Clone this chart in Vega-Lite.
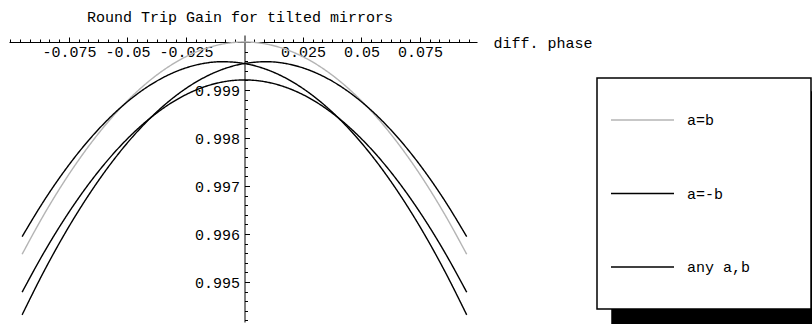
{
 "$schema": "https://vega.github.io/schema/vega-lite/v6.json",
 "width": 468, "height": 287,
 "autosize": "none",
 "padding": {"left": 9, "top": 35, "right": 335, "bottom": 2},
 "background": "white",
 "title": {"text": "Round Trip Gain for tilted mirrors", "font": "Liberation Mono", "fontSize": 15, "fontWeight": "normal", "color": "black", "anchor": "middle", "baseline": "alphabetic", "offset": 15, "dy": 17, "dx": -3},
 "data": {"values": [
  {"x": -0.095, "y": 0.995578, "case": "a=b", "curve": "G"},
  {"x": -0.0855, "y": 0.996418, "case": "a=b", "curve": "G"},
  {"x": -0.076, "y": 0.997170, "case": "a=b", "curve": "G"},
  {"x": -0.0665, "y": 0.997833, "case": "a=b", "curve": "G"},
  {"x": -0.057, "y": 0.998408, "case": "a=b", "curve": "G"},
  {"x": -0.0475, "y": 0.998894, "case": "a=b", "curve": "G"},
  {"x": -0.038, "y": 0.999292, "case": "a=b", "curve": "G"},
  {"x": -0.0285, "y": 0.999602, "case": "a=b", "curve": "G"},
  {"x": -0.019, "y": 0.999823, "case": "a=b", "curve": "G"},
  {"x": -0.0095, "y": 0.999956, "case": "a=b", "curve": "G"},
  {"x": 0, "y": 1.0, "case": "a=b", "curve": "G"},
  {"x": 0.0095, "y": 0.999956, "case": "a=b", "curve": "G"},
  {"x": 0.019, "y": 0.999823, "case": "a=b", "curve": "G"},
  {"x": 0.0285, "y": 0.999602, "case": "a=b", "curve": "G"},
  {"x": 0.038, "y": 0.999292, "case": "a=b", "curve": "G"},
  {"x": 0.0475, "y": 0.998894, "case": "a=b", "curve": "G"},
  {"x": 0.057, "y": 0.998408, "case": "a=b", "curve": "G"},
  {"x": 0.0665, "y": 0.997833, "case": "a=b", "curve": "G"},
  {"x": 0.076, "y": 0.997170, "case": "a=b", "curve": "G"},
  {"x": 0.0855, "y": 0.996418, "case": "a=b", "curve": "G"},
  {"x": 0.095, "y": 0.995578, "case": "a=b", "curve": "G"},
  {"x": -0.095, "y": 0.994788, "case": "a=-b", "curve": "C"},
  {"x": -0.0855, "y": 0.995628, "case": "a=-b", "curve": "C"},
  {"x": -0.076, "y": 0.996380, "case": "a=-b", "curve": "C"},
  {"x": -0.0665, "y": 0.997043, "case": "a=-b", "curve": "C"},
  {"x": -0.057, "y": 0.997618, "case": "a=-b", "curve": "C"},
  {"x": -0.0475, "y": 0.998104, "case": "a=-b", "curve": "C"},
  {"x": -0.038, "y": 0.998502, "case": "a=-b", "curve": "C"},
  {"x": -0.0285, "y": 0.998812, "case": "a=-b", "curve": "C"},
  {"x": -0.019, "y": 0.999033, "case": "a=-b", "curve": "C"},
  {"x": -0.0095, "y": 0.999166, "case": "a=-b", "curve": "C"},
  {"x": 0, "y": 0.999210, "case": "a=-b", "curve": "C"},
  {"x": 0.0095, "y": 0.999166, "case": "a=-b", "curve": "C"},
  {"x": 0.019, "y": 0.999033, "case": "a=-b", "curve": "C"},
  {"x": 0.0285, "y": 0.998812, "case": "a=-b", "curve": "C"},
  {"x": 0.038, "y": 0.998502, "case": "a=-b", "curve": "C"},
  {"x": 0.0475, "y": 0.998104, "case": "a=-b", "curve": "C"},
  {"x": 0.057, "y": 0.997618, "case": "a=-b", "curve": "C"},
  {"x": 0.0665, "y": 0.997043, "case": "a=-b", "curve": "C"},
  {"x": 0.076, "y": 0.996380, "case": "a=-b", "curve": "C"},
  {"x": 0.0855, "y": 0.995628, "case": "a=-b", "curve": "C"},
  {"x": 0.095, "y": 0.994788, "case": "a=-b", "curve": "C"},
  {"x": -0.095, "y": 0.995945, "case": "any a,b", "curve": "A"},
  {"x": -0.0855, "y": 0.996704, "case": "any a,b", "curve": "A"},
  {"x": -0.076, "y": 0.997374, "case": "any a,b", "curve": "A"},
  {"x": -0.0665, "y": 0.997956, "case": "any a,b", "curve": "A"},
  {"x": -0.057, "y": 0.998449, "case": "any a,b", "curve": "A"},
  {"x": -0.0475, "y": 0.998854, "case": "any a,b", "curve": "A"},
  {"x": -0.038, "y": 0.999171, "case": "any a,b", "curve": "A"},
  {"x": -0.0285, "y": 0.999399, "case": "any a,b", "curve": "A"},
  {"x": -0.019, "y": 0.999539, "case": "any a,b", "curve": "A"},
  {"x": -0.0095, "y": 0.999590, "case": "any a,b", "curve": "A"},
  {"x": 0, "y": 0.999552, "case": "any a,b", "curve": "A"},
  {"x": 0.0095, "y": 0.999427, "case": "any a,b", "curve": "A"},
  {"x": 0.019, "y": 0.999213, "case": "any a,b", "curve": "A"},
  {"x": 0.0285, "y": 0.998910, "case": "any a,b", "curve": "A"},
  {"x": 0.038, "y": 0.998519, "case": "any a,b", "curve": "A"},
  {"x": 0.0475, "y": 0.998040, "case": "any a,b", "curve": "A"},
  {"x": 0.057, "y": 0.997472, "case": "any a,b", "curve": "A"},
  {"x": 0.0665, "y": 0.996815, "case": "any a,b", "curve": "A"},
  {"x": 0.076, "y": 0.996071, "case": "any a,b", "curve": "A"},
  {"x": 0.0855, "y": 0.995237, "case": "any a,b", "curve": "A"},
  {"x": 0.095, "y": 0.994316, "case": "any a,b", "curve": "A"},
  {"x": -0.095, "y": 0.994316, "case": "any a,b", "curve": "B"},
  {"x": -0.0855, "y": 0.995237, "case": "any a,b", "curve": "B"},
  {"x": -0.076, "y": 0.996071, "case": "any a,b", "curve": "B"},
  {"x": -0.0665, "y": 0.996815, "case": "any a,b", "curve": "B"},
  {"x": -0.057, "y": 0.997472, "case": "any a,b", "curve": "B"},
  {"x": -0.0475, "y": 0.998040, "case": "any a,b", "curve": "B"},
  {"x": -0.038, "y": 0.998519, "case": "any a,b", "curve": "B"},
  {"x": -0.0285, "y": 0.998910, "case": "any a,b", "curve": "B"},
  {"x": -0.019, "y": 0.999213, "case": "any a,b", "curve": "B"},
  {"x": -0.0095, "y": 0.999427, "case": "any a,b", "curve": "B"},
  {"x": 0, "y": 0.999552, "case": "any a,b", "curve": "B"},
  {"x": 0.0095, "y": 0.999590, "case": "any a,b", "curve": "B"},
  {"x": 0.019, "y": 0.999539, "case": "any a,b", "curve": "B"},
  {"x": 0.0285, "y": 0.999399, "case": "any a,b", "curve": "B"},
  {"x": 0.038, "y": 0.999171, "case": "any a,b", "curve": "B"},
  {"x": 0.0475, "y": 0.998854, "case": "any a,b", "curve": "B"},
  {"x": 0.057, "y": 0.998449, "case": "any a,b", "curve": "B"},
  {"x": 0.0665, "y": 0.997956, "case": "any a,b", "curve": "B"},
  {"x": 0.076, "y": 0.997374, "case": "any a,b", "curve": "B"},
  {"x": 0.0855, "y": 0.996704, "case": "any a,b", "curve": "B"},
  {"x": 0.095, "y": 0.995945, "case": "any a,b", "curve": "B"}
 ]},
 "layer": [
  {
   "mark": {"type": "line", "interpolate": "monotone", "strokeWidth": 1.4},
   "encoding": {
    "x": {"field": "x", "type": "quantitative", "scale": {"domain": [-0.1006, 0.0994], "nice": false, "zero": false},
      "axis": {"orient": "bottom", "offset": -280, "values": [-0.075, -0.05, -0.025, 0.025, 0.05, 0.075], "labelExpr": "toString(datum.value)", "tickSize": -5, "tickColor": "black", "tickWidth": 1, "domainColor": "black", "domainWidth": 1, "labelFont": "Liberation Mono", "labelFontSize": 15, "labelColor": "black", "labelPadding": 7, "labelBaseline": "top", "labelFlush": false, "labelOverlap": false, "grid": false,
        "title": "diff. phase", "titleFont": "Liberation Mono", "titleFontSize": 15, "titleFontWeight": "normal", "titleColor": "black", "titleAlign": "left", "titleBaseline": "middle", "titleX": 484, "titleY": 0, "titleAngle": 0}},
    "y": {"field": "y", "type": "quantitative", "scale": {"domain": [0.994167, 1.000146], "nice": false, "zero": false},
      "axis": {"orient": "left", "offset": -235.5, "values": [0.995, 0.996, 0.997, 0.998, 0.999], "format": ".3f", "tickSize": -5, "tickColor": "black", "tickWidth": 1, "domainColor": "black", "domainWidth": 1, "labelFont": "Liberation Mono", "labelFontSize": 15, "labelColor": "black", "labelPadding": 10, "labelFlush": false, "labelOverlap": false, "grid": false, "title": null}},
    "color": {"field": "case", "type": "nominal", "scale": {"domain": ["a=b", "a=-b", "any a,b"], "range": ["#b4b4b4", "#000000", "#000000"]},
      "legend": {"title": ".", "titleOrient": "right", "titleColor": "white", "titleOpacity": 0, "titleFont": "Liberation Mono", "titleFontSize": 1, "titlePadding": 47, "orient": "none", "legendX": 588, "legendY": 43, "direction": "vertical", "symbolType": "stroke", "symbolSize": 3969, "symbolStrokeWidth": 1.5, "clipHeight": 58, "rowPadding": 15.5, "padding": 13, "labelOffset": 12, "labelFont": "Liberation Mono", "labelFontSize": 15, "labelColor": "black", "labelBaseline": "middle", "fillColor": "white", "strokeColor": "black", "zindex": 1}},
    "strokeDash": {"field": "curve", "type": "nominal", "scale": {"domain": ["G", "C", "A", "B"], "range": [[1, 0], [1, 0], [1, 0], [1, 0]]},
      "legend": {"title": null, "orient": "none", "legendX": 603, "legendY": 57, "direction": "vertical", "symbolType": "stroke", "symbolSize": 44100, "symbolStrokeColor": "black", "clipHeight": 58, "rowPadding": 15.5, "padding": 13, "labelOffset": 0, "labelFontSize": 15, "labelColor": "black", "fillColor": "black", "strokeColor": "black", "zindex": 0, "labelExpr": "''"}}
   }
  },
  {
   "mark": {"type": "point", "opacity": 0},
   "encoding": {
    "x": {"field": "x", "type": "quantitative", "scale": {"domain": [-0.1006, 0.0994], "nice": false, "zero": false},
      "axis": {"orient": "bottom", "offset": -280, "values": [-0.1, -0.09583, -0.09167, -0.0875, -0.08333, -0.07917, -0.07083, -0.06667, -0.0625, -0.05833, -0.05417, -0.04583, -0.04167, -0.0375, -0.03333, -0.02917, -0.02083, -0.01667, -0.0125, -0.00833, -0.00417, 0.00417, 0.00833, 0.0125, 0.01667, 0.02083, 0.02917, 0.03333, 0.0375, 0.04167, 0.04583, 0.05417, 0.05833, 0.0625, 0.06667, 0.07083, 0.07917, 0.08333, 0.0875, 0.09167, 0.09583], "labels": false, "domain": false, "grid": false, "tickSize": -3, "tickColor": "black", "tickWidth": 1, "title": null}},
    "y": {"field": "y", "type": "quantitative", "scale": {"domain": [0.994167, 1.000146], "nice": false, "zero": false},
      "axis": {"orient": "left", "offset": -235.5, "values": [0.9942, 0.9944, 0.9946, 0.9948, 0.9952, 0.9954, 0.9956, 0.9958, 0.9962, 0.9964, 0.9966, 0.9968, 0.9972, 0.9974, 0.9976, 0.9978, 0.9982, 0.9984, 0.9986, 0.9988, 0.9992, 0.9994, 0.9996, 0.9998], "labels": false, "domain": false, "grid": false, "tickSize": -3, "tickColor": "black", "tickWidth": 1, "title": null}}
   }
  }
 ],
 "resolve": {"axis": {"x": "independent", "y": "independent"}},
 "config": {
  "view": {"stroke": null},
  "font": "Liberation Mono",
  "legend": {"strokeWidth": 1.5}
 }
}
